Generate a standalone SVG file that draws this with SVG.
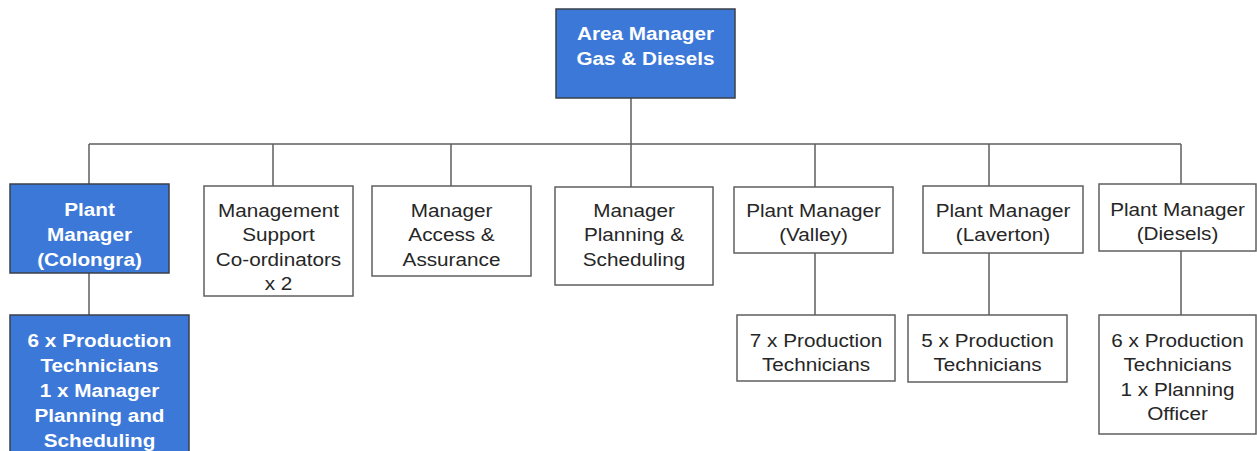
<svg xmlns="http://www.w3.org/2000/svg" width="1257" height="451" viewBox="0 0 1257 451">
<style>
.box{fill:#ffffff;stroke:#5f5f5f;stroke-width:1.5}
.blue{fill:#3c78d8;stroke:#3a3f4a;stroke-width:1.5}
.t{font-family:"Liberation Sans",Arial,sans-serif;font-size:18.5px;fill:#262626;text-anchor:middle}
.tb{font-family:"Liberation Sans",Arial,sans-serif;font-size:18.5px;font-weight:bold;fill:#ffffff;text-anchor:middle}
.c{fill:none;stroke:#5f5f5f;stroke-width:1.5}
</style>
<rect width="1257" height="451" fill="#ffffff"/>
<g id="connectors">
<path class="c" d="M631 98V187M89 144H1181M89 144V184M273 144V186M451 144V186M815 144V187M989 144V186M1181 144V184M89 273V315M815 253V315M989 253V315M1181 251V315"/>
</g>
<g id="area-manager">
<rect class="blue" x="556" y="9" width="179" height="89"/>
<text class="tb" transform="translate(645.5 40) scale(1.12 1)"><tspan x="0">Area Manager</tspan><tspan x="0" dy="25">Gas &amp; Diesels</tspan></text>
</g>
<g id="colongra">
<rect class="blue" x="10" y="184" width="159" height="89"/>
<text class="tb" transform="translate(89.5 216) scale(1.12 1)"><tspan x="0">Plant</tspan><tspan x="0" dy="25">Manager</tspan><tspan x="0" dy="25">(Colongra)</tspan></text>
</g>
<g id="colongra-staff">
<rect class="blue" x="10" y="315" width="179" height="145"/>
<text class="tb" transform="translate(99.5 347) scale(1.12 1)"><tspan x="0">6 x Production</tspan><tspan x="0" dy="25">Technicians</tspan><tspan x="0" dy="25">1 x Manager</tspan><tspan x="0" dy="25">Planning and</tspan><tspan x="0" dy="25">Scheduling</tspan></text>
</g>
<g id="support">
<rect class="box" x="204" y="186" width="149" height="110"/>
<text class="t" transform="translate(278.5 217) scale(1.12 1)"><tspan x="0">Management</tspan><tspan x="0" dy="24.5">Support</tspan><tspan x="0" dy="24.5">Co-ordinators</tspan><tspan x="0" dy="24.5">x 2</tspan></text>
</g>
<g id="access">
<rect class="box" x="372" y="186" width="159" height="90"/>
<text class="t" transform="translate(451.5 217) scale(1.12 1)"><tspan x="0">Manager</tspan><tspan x="0" dy="24.5">Access &amp;</tspan><tspan x="0" dy="24.5">Assurance</tspan></text>
</g>
<g id="planning">
<rect class="box" x="555" y="187" width="158" height="98"/>
<text class="t" transform="translate(634 217) scale(1.12 1)"><tspan x="0">Manager</tspan><tspan x="0" dy="24.5">Planning &amp;</tspan><tspan x="0" dy="24.5">Scheduling</tspan></text>
</g>
<g id="valley">
<rect class="box" x="734" y="187" width="159" height="66"/>
<text class="t" transform="translate(813.5 217) scale(1.12 1)"><tspan x="0">Plant Manager</tspan><tspan x="0" dy="24.5">(Valley)</tspan></text>
</g>
<g id="valley-staff">
<rect class="box" x="737" y="315" width="158" height="66"/>
<text class="t" transform="translate(816 347) scale(1.12 1)"><tspan x="0">7 x Production</tspan><tspan x="0" dy="24.5">Technicians</tspan></text>
</g>
<g id="laverton">
<rect class="box" x="923" y="186" width="160" height="67"/>
<text class="t" transform="translate(1003 217) scale(1.12 1)"><tspan x="0">Plant Manager</tspan><tspan x="0" dy="24.5">(Laverton)</tspan></text>
</g>
<g id="laverton-staff">
<rect class="box" x="908" y="315" width="159" height="67"/>
<text class="t" transform="translate(987.5 347) scale(1.12 1)"><tspan x="0">5 x Production</tspan><tspan x="0" dy="24.5">Technicians</tspan></text>
</g>
<g id="diesels">
<rect class="box" x="1099" y="184" width="157" height="67"/>
<text class="t" transform="translate(1177.5 216) scale(1.12 1)"><tspan x="0">Plant Manager</tspan><tspan x="0" dy="24.5">(Diesels)</tspan></text>
</g>
<g id="diesels-staff">
<rect class="box" x="1099" y="315" width="157" height="119"/>
<text class="t" transform="translate(1177.5 347) scale(1.12 1)"><tspan x="0">6 x Production</tspan><tspan x="0" dy="24.5">Technicians</tspan><tspan x="0" dy="24.5">1 x Planning</tspan><tspan x="0" dy="24.5">Officer</tspan></text>
</g>
</svg>
